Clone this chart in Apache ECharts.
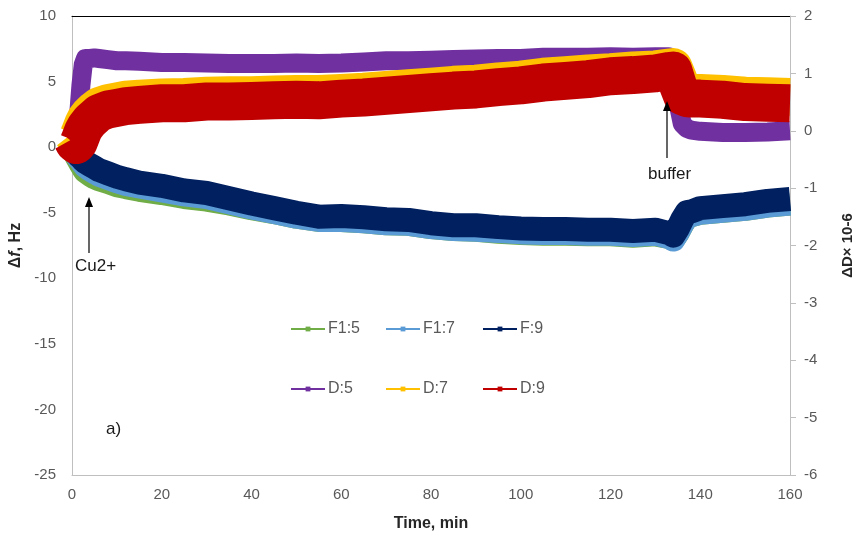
<!DOCTYPE html>
<html>
<head>
<meta charset="utf-8">
<script src="https://cdn.jsdelivr.net/npm/echarts@6/dist/echarts.min.js"></script>
<style>
  html, body { margin: 0; padding: 0; background: #fff; }
  #chart { width: 853px; height: 540px; }
</style>
</head>
<body>
<div id="chart"></div>
<script>
// time, min
const timeMin = [0, 0.5, 1, 1.5, 2, 2.5, 3, 4, 5, 6, 8, 10, 12, 15, 20, 25, 30, 35, 40, 45,
  50, 55, 60, 65, 70, 75, 80, 85, 90, 95, 100, 105, 110, 115, 120, 125, 130, 133, 134, 135,
  136, 137, 138, 140, 145, 150, 155, 160];

// frequency shift, Hz (left axis)
const f1_5 = [0, -0.3, -0.7, -1.0, -1.3, -1.6, -1.85, -2.1, -2.3, -2.45, -2.65, -2.9, -3.05, -3.25, -3.5, -3.8, -4.0, -4.3, -4.65, -4.95,
  -5.3, -5.55, -5.55, -5.65, -5.8, -5.85, -6.1, -6.25, -6.3, -6.45, -6.55, -6.6, -6.6, -6.65, -6.65, -6.75, -6.65, -6.85, -7.0, -6.5,
  -5.85, -5.3, -5.2, -5.0, -4.85, -4.7, -4.45, -4.3];
const f1_7 = [0, -0.25, -0.55, -0.8, -1.0, -1.25, -1.45, -1.7, -1.9, -2.1, -2.35, -2.6, -2.8, -3.0, -3.3, -3.6, -3.8, -4.2, -4.6, -4.95,
  -5.3, -5.55, -5.55, -5.65, -5.8, -5.85, -6.1, -6.25, -6.3, -6.4, -6.5, -6.55, -6.55, -6.6, -6.6, -6.7, -6.6, -6.85, -7.05, -6.5,
  -5.85, -5.3, -5.2, -5.0, -4.85, -4.7, -4.45, -4.3];
const f_9 = [0, -0.2, -0.45, -0.65, -0.8, -1.0, -1.15, -1.35, -1.55, -1.75, -2.0, -2.25, -2.45, -2.7, -2.95, -3.3, -3.5, -3.9, -4.3, -4.65,
  -5.0, -5.3, -5.25, -5.35, -5.5, -5.55, -5.8, -5.95, -5.95, -6.1, -6.2, -6.25, -6.25, -6.3, -6.3, -6.4, -6.3, -6.55, -6.75, -6.2,
  -5.5, -4.95, -4.9, -4.65, -4.5, -4.35, -4.1, -3.95];

// dissipation shift, x10-6 (right axis)
const d_5 = [0.15, 0.16, 0.18, 0.3, 0.8, 1.15, 1.26, 1.26, 1.27, 1.26, 1.24, 1.22, 1.22, 1.21, 1.19, 1.19, 1.18, 1.17, 1.17, 1.17,
  1.18, 1.17, 1.18, 1.2, 1.22, 1.22, 1.23, 1.24, 1.25, 1.26, 1.26, 1.28, 1.28, 1.28, 1.29, 1.28, 1.29, 1.29, 1.2, 0.5,
  0.12, 0.04, 0.01, -0.01, -0.03, -0.03, -0.02, 0.0];
const d_7 = [-0.05, -0.1, -0.13, -0.08, 0.02, 0.12, 0.2, 0.3, 0.37, 0.43, 0.48, 0.51, 0.54, 0.56, 0.58, 0.59, 0.61, 0.62, 0.62, 0.63,
  0.64, 0.64, 0.66, 0.68, 0.71, 0.74, 0.77, 0.8, 0.82, 0.86, 0.89, 0.94, 0.97, 1.0, 1.02, 1.05, 1.07, 1.1, 1.11, 0.92,
  0.7, 0.67, 0.66, 0.66, 0.64, 0.61, 0.6, 0.59];
const d_9 = [-0.15, -0.22, -0.25, -0.2, -0.1, 0.0, 0.07, 0.17, 0.24, 0.31, 0.37, 0.4, 0.43, 0.45, 0.48, 0.48, 0.51, 0.51, 0.52, 0.53,
  0.54, 0.53, 0.56, 0.58, 0.61, 0.64, 0.67, 0.7, 0.72, 0.76, 0.79, 0.84, 0.87, 0.9, 0.95, 0.97, 1.0, 1.04, 1.05, 0.8,
  0.6, 0.57, 0.56, 0.56, 0.54, 0.5, 0.49, 0.48];

const seriesNames = ['F1:5', 'F1:7', 'F:9', 'D:5', 'D:7', 'D:9'];
const seriesValues = [f1_5, f1_7, f_9, d_5, d_7, d_9];
const seriesColors = ['#70AD47', '#5B9BD5', '#002060', '#7030A0', '#FFC000', '#C00000'];
const bandWidths = [24, 24, 24, 19, 38, 38];

const FONT = '"Liberation Sans", Arial, sans-serif';
const GRAY = '#595959';

const series = seriesNames.map((name, i) => ({
  name: name,
  type: 'line',
  xAxisIndex: 0,
  yAxisIndex: i < 3 ? 0 : 1,
  data: timeMin.map((t, k) => [t, seriesValues[i][k]]),
  symbol: 'rect',
  symbolSize: 5,
  showSymbol: false,
  color: seriesColors[i],
  lineStyle: { width: bandWidths[i], color: seriesColors[i], join: 'round', cap: 'butt' },
  emphasis: { disabled: true },
  animation: false
}));

// one legend per item so the two rows sit where they do in the original
const legendLeft = [290, 385, 482];
const legends = seriesNames.map((name, i) => ({
  data: [name],
  left: legendLeft[i % 3],
  top: i < 3 ? 321 : 381,
  padding: 0,
  itemWidth: 34,
  itemHeight: 6,
  lineStyle: { width: 2 },
  textStyle: { color: GRAY, fontSize: 16, fontFamily: FONT, padding: [0, 0, 0, -2] }
}));

function arrow(x, yTop, yBottom) {
  return {
    type: 'group',
    z: 100,
    children: [
      { type: 'line', z: 100, shape: { x1: x, y1: yTop + 8, x2: x, y2: yBottom }, style: { stroke: '#000', lineWidth: 1.2 } },
      { type: 'polygon', z: 100, shape: { points: [[x, yTop], [x - 4, yTop + 10], [x + 4, yTop + 10]] }, style: { fill: '#000' } }
    ]
  };
}

const option = {
  backgroundColor: '#fff',
  animation: false,
  grid: { left: 72, right: 63, top: 16, bottom: 65, outerBoundsMode: 'none', containLabel: false },
  legend: legends,
  xAxis: [{
    type: 'value', min: 0, max: 160, interval: 20, position: 'bottom',
    name: 'Time, min', nameLocation: 'middle', nameGap: 41,
    nameTextStyle: { color: '#262626', fontSize: 16, fontWeight: 'bold', fontFamily: FONT },
    axisLine: { onZero: false, lineStyle: { color: '#BFBFBF' } },
    axisTick: { show: false },
    axisLabel: { color: GRAY, fontSize: 15, fontFamily: FONT, margin: 12 },
    splitLine: { show: false }
  }, {
    type: 'value', min: 0, max: 160, position: 'top',
    axisLine: { onZero: false, lineStyle: { color: '#000' } },
    axisTick: { show: false }, axisLabel: { show: false }, splitLine: { show: false }
  }],
  yAxis: [{
    type: 'value', min: -25, max: 10, interval: 5, position: 'left',
    name: '{n|Δ}{i|f}{n|, Hz}', nameLocation: 'middle', nameGap: 48, nameRotate: 90,
    nameTextStyle: {
      rich: {
        n: { color: '#262626', fontSize: 16, fontWeight: 'bold', fontFamily: FONT },
        i: { color: '#262626', fontSize: 16, fontWeight: 'bold', fontStyle: 'italic', fontFamily: FONT }
      }
    },
    axisLine: { show: true, onZero: false, lineStyle: { color: '#BFBFBF' } },
    axisTick: { show: false },
    axisLabel: { color: GRAY, fontSize: 15, fontFamily: FONT, margin: 16 },
    splitLine: { show: false }
  }, {
    type: 'value', min: -6, max: 2, interval: 1, position: 'right',
    name: 'ΔD× 10-6', nameLocation: 'middle', nameGap: 50, nameRotate: 90,
    nameTextStyle: { color: '#262626', fontSize: 15, fontWeight: 'bold', fontFamily: FONT },
    axisLine: { show: true, onZero: false, lineStyle: { color: '#BFBFBF' } },
    axisTick: { show: true, inside: false, length: 6, lineStyle: { color: '#BFBFBF' } },
    axisLabel: { color: GRAY, fontSize: 15, fontFamily: FONT, margin: 14 },
    splitLine: { show: false }
  }],
  graphic: [
    arrow(89, 197, 253),
    { type: 'text', z: 100, left: 75, top: 258, style: { text: 'Cu2+', fill: '#1a1a1a', font: '17px ' + FONT } },
    arrow(667, 101, 158),
    { type: 'text', z: 100, left: 648, top: 166, style: { text: 'buffer', fill: '#1a1a1a', font: '17px ' + FONT } },
    { type: 'text', z: 100, left: 106, top: 421, style: { text: 'a)', fill: '#1a1a1a', font: '17px ' + FONT } }
  ],
  series: series
};

const chart = echarts.init(document.getElementById('chart'), null, { renderer: 'canvas' });
chart.setOption(option);
</script>
</body>
</html>
